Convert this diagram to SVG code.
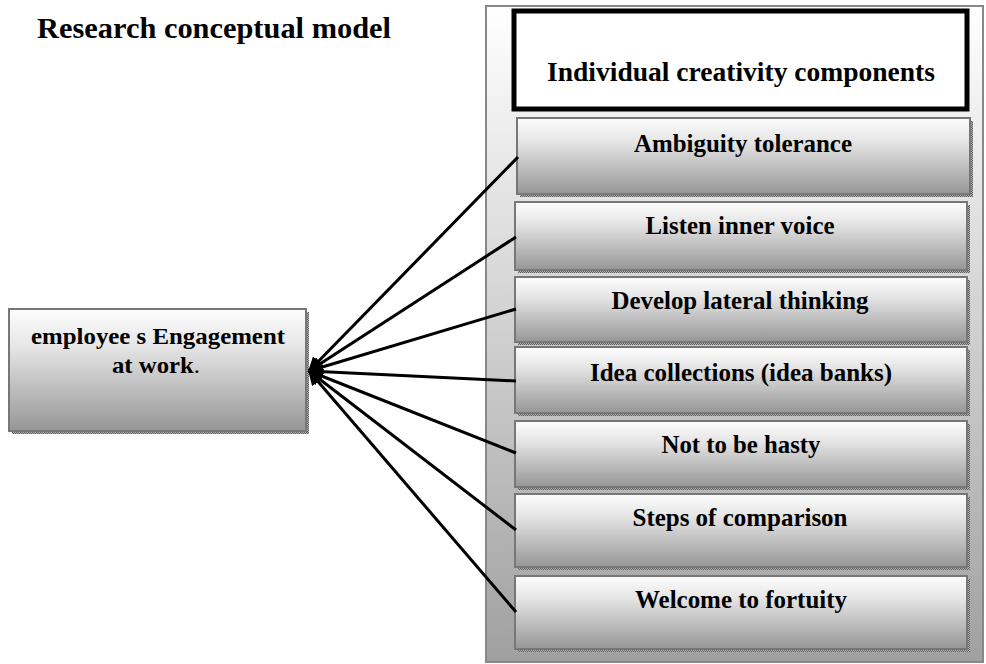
<svg xmlns="http://www.w3.org/2000/svg" width="986" height="664" viewBox="0 0 986 664">
<style>
.t{font-family:'Liberation Serif','Times New Roman',serif;font-weight:700;font-size:26px;fill:#000;text-anchor:middle}
.box{fill:url(#g);stroke:#777;stroke-width:2}
.sh{fill:url(#dots)}
.ln{stroke:#000;stroke-width:3;fill:none;marker-end:url(#ah)}
</style>
<defs>
<linearGradient id="g" x1="0" y1="0" x2="0" y2="1">
<stop offset="0" stop-color="#fdfdfd"/>
<stop offset="0.3" stop-color="#e6e6e6"/>
<stop offset="1" stop-color="#969696"/>
</linearGradient>
<linearGradient id="og" x1="0" y1="0" x2="0" y2="1">
<stop offset="0" stop-color="#ffffff"/>
<stop offset="1" stop-color="#a0a0a0"/>
</linearGradient>
<pattern id="dots" width="2" height="2" patternUnits="userSpaceOnUse">
<rect width="2" height="2" fill="#b0b0b0"/>
<rect width="1" height="1" fill="#606060"/>
<rect x="1" y="1" width="1" height="1" fill="#606060"/>
</pattern>
<marker id="ah" viewBox="0 0 10 10" refX="9" refY="5" markerWidth="5" markerHeight="5" orient="auto" markerUnits="strokeWidth">
<path d="M0,0 L10,5 L0,10 z" fill="#000"/>
</marker>
</defs>
<rect width="986" height="664" fill="#fff"/>
<text class="t" x="214" y="38" style="font-size:29px" textLength="354" lengthAdjust="spacingAndGlyphs">Research conceptual model</text>
<g id="container">
<rect x="486" y="6" width="497" height="656" fill="url(#og)" stroke="#888" stroke-width="2"/>
</g>
<g id="header">
<rect x="514" y="11" width="453" height="98" fill="#fff" stroke="#000" stroke-width="5"/>
<text class="t" x="741" y="81" style="font-size:28px" textLength="388" lengthAdjust="spacingAndGlyphs">Individual creativity components</text>
</g>
<g id="engagement">
<rect class="sh" x="12" y="312" width="297" height="122"/>
<rect class="box" x="9" y="309" width="297" height="122"/>
<text class="t" x="158" y="344" style="font-size:23px" textLength="254" lengthAdjust="spacingAndGlyphs">employee s Engagement</text>
<text class="t" x="156" y="373" style="font-size:23px" textLength="88" lengthAdjust="spacingAndGlyphs"><tspan>at work</tspan><tspan style="font-weight:400">.</tspan></text>
</g>
<g id="ambiguity">
<rect class="sh" x="520" y="121" width="453" height="76"/>
<rect class="box" x="517" y="118" width="453" height="76"/>
<text class="t" x="743" y="152" textLength="218" lengthAdjust="spacingAndGlyphs">Ambiguity tolerance</text>
</g>
<g id="listen">
<rect class="sh" x="518" y="205" width="452" height="68"/>
<rect class="box" x="515" y="202" width="452" height="68"/>
<text class="t" x="740" y="234" textLength="189" lengthAdjust="spacingAndGlyphs">Listen inner voice</text>
</g>
<g id="develop">
<rect class="sh" x="518" y="280" width="452" height="65"/>
<rect class="box" x="515" y="277" width="452" height="65"/>
<text class="t" x="740" y="309" textLength="257" lengthAdjust="spacingAndGlyphs">Develop lateral thinking</text>
</g>
<g id="idea">
<rect class="sh" x="518" y="350" width="452" height="66"/>
<rect class="box" x="515" y="347" width="452" height="66"/>
<text class="t" x="741" y="381" textLength="302" lengthAdjust="spacingAndGlyphs">Idea collections (idea banks)</text>
</g>
<g id="hasty">
<rect class="sh" x="518" y="424" width="452" height="66"/>
<rect class="box" x="515" y="421" width="452" height="66"/>
<text class="t" x="741" y="453" textLength="159" lengthAdjust="spacingAndGlyphs">Not to be hasty</text>
</g>
<g id="steps">
<rect class="sh" x="518" y="497" width="452" height="73"/>
<rect class="box" x="515" y="494" width="452" height="73"/>
<text class="t" x="740" y="526" textLength="215" lengthAdjust="spacingAndGlyphs">Steps of comparison</text>
</g>
<g id="welcome">
<rect class="sh" x="518" y="579" width="452" height="73"/>
<rect class="box" x="515" y="576" width="452" height="73"/>
<text class="t" x="741" y="608" textLength="212" lengthAdjust="spacingAndGlyphs">Welcome to fortuity</text>
</g>
<g id="connectors">
<line class="ln" x1="518" y1="157" x2="309" y2="371"/>
<line class="ln" x1="516" y1="237" x2="309" y2="371"/>
<line class="ln" x1="516" y1="309" x2="309" y2="371"/>
<line class="ln" x1="516" y1="381" x2="309" y2="371"/>
<line class="ln" x1="516" y1="453" x2="309" y2="371"/>
<line class="ln" x1="516" y1="530" x2="309" y2="371"/>
<line class="ln" x1="516" y1="612" x2="309" y2="371"/>
</g>
</svg>
